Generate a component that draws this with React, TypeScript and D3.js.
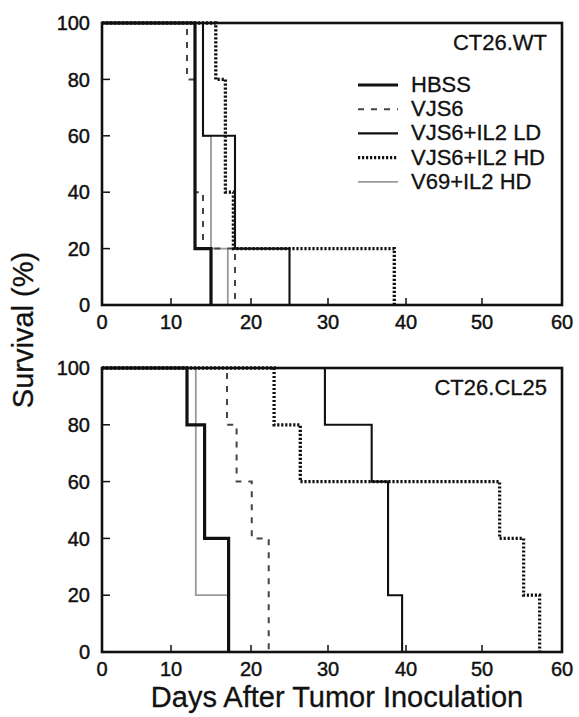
import React from "react";
import * as d3 from "d3";

// ---- data ----
const xTicks = [0, 10, 20, 30, 40, 50, 60];
const yTicks = [0, 20, 40, 60, 80, 100];
const seriesNames = ["HBSS", "VJS6", "VJS6+IL2 LD", "VJS6+IL2 HD", "V69+IL2 HD"];
const panelTitles = ["CT26.WT", "CT26.CL25"];

// CT26.WT panel: days of death events and survival (%) after each
const wtHBSSDays = [0, 13, 15];
const wtHBSSSurv = [100, 20, 0];
const wtVJS6Days = [0, 12, 13, 14, 18];
const wtVJS6Surv = [100, 80, 40, 20, 0];
const wtLDDays = [0, 14, 18, 25];
const wtLDSurv = [100, 60, 20, 0];
const wtHDDays = [0, 15.6, 16.8, 17.8, 38.5];
const wtHDSurv = [100, 80, 40, 20, 0];
const wtV69Days = [0, 14, 15, 17.1];
const wtV69Surv = [100, 60, 20, 0];

// CT26.CL25 panel
const clHBSSDays = [0, 12, 14.2, 17.2];
const clHBSSSurv = [100, 80, 40, 0];
const clVJS6Days = [0, 17, 18.2, 20.1, 22.3];
const clVJS6Surv = [100, 80, 60, 40, 0];
const clLDDays = [0, 29.6, 35.6, 37.7, 39.5];
const clLDSurv = [100, 80, 60, 20, 0];
const clHDDays = [0, 23, 26.4, 52.2, 55.2, 57.2];
const clHDSurv = [100, 80, 60, 40, 20, 0];
const clV69Days = [0, 13.1, 17.2];
const clV69Surv = [100, 20, 0];

// ---- styles ----
const styles: Record<string, { stroke: string; width: number; dash?: string }> = {
  HBSS: { stroke: "#111", width: 3.2 },
  VJS6: { stroke: "#444", width: 2, dash: "6,7" },
  "VJS6+IL2 LD": { stroke: "#111", width: 2.1 },
  "VJS6+IL2 HD": { stroke: "#111", width: 3.3, dash: "2.2,1.8" },
  "V69+IL2 HD": { stroke: "#9a9a9a", width: 1.8 },
};
const drawOrder = ["V69+IL2 HD", "VJS6", "VJS6+IL2 HD", "VJS6+IL2 LD", "HBSS"];

const FONT = "'Liberation Sans', Arial, Helvetica, sans-serif";
const TXT = { fontFamily: FONT, fill: "#111", stroke: "#111", strokeWidth: 0.45 };

const x = d3
  .scaleLinear()
  .domain(xTicks)
  .range([102, 171, 251, 328, 406, 482, 562]);

type Panel = {
  title: string;
  top: number;
  bottom: number;
  series: Record<string, { days: number[]; surv: number[] }>;
  legend: boolean;
};

const panels: Panel[] = [
  {
    title: panelTitles[0],
    top: 23,
    bottom: 305,
    legend: true,
    series: {
      HBSS: { days: wtHBSSDays, surv: wtHBSSSurv },
      VJS6: { days: wtVJS6Days, surv: wtVJS6Surv },
      "VJS6+IL2 LD": { days: wtLDDays, surv: wtLDSurv },
      "VJS6+IL2 HD": { days: wtHDDays, surv: wtHDSurv },
      "V69+IL2 HD": { days: wtV69Days, surv: wtV69Surv },
    },
  },
  {
    title: panelTitles[1],
    top: 368,
    bottom: 652,
    legend: false,
    series: {
      HBSS: { days: clHBSSDays, surv: clHBSSSurv },
      VJS6: { days: clVJS6Days, surv: clVJS6Surv },
      "VJS6+IL2 LD": { days: clLDDays, surv: clLDSurv },
      "VJS6+IL2 HD": { days: clHDDays, surv: clHDSurv },
      "V69+IL2 HD": { days: clV69Days, surv: clV69Surv },
    },
  },
];

function PanelView({ p }: { p: Panel }) {
  const y = d3.scaleLinear().domain([0, 100]).range([p.bottom, p.top]);
  const line = d3
    .line<[number, number]>()
    .x((d) => x(d[0]))
    .y((d) => y(d[1]))
    .curve(d3.curveStepAfter);
  const x0 = x(0);
  const x1 = x(60);
  return (
    <g>
      {drawOrder.map((name) => {
        const s = p.series[name];
        const pts = s.days.map((d, i) => [d, s.surv[i]] as [number, number]);
        const st = styles[name];
        return (
          <path
            key={name}
            d={line(pts) || ""}
            fill="none"
            stroke={st.stroke}
            strokeWidth={st.width}
            strokeDasharray={st.dash}
          />
        );
      })}
      {/* frame */}
      <rect
        x={x0}
        y={p.top}
        width={x1 - x0}
        height={p.bottom - p.top}
        fill="none"
        stroke="#111"
        strokeWidth={2.6}
      />
      {/* x ticks */}
      {xTicks.map((t) => (
        <g key={"xt" + t}>
          <line x1={x(t)} x2={x(t)} y1={p.bottom} y2={p.bottom - 7} stroke="#111" strokeWidth={1.5} />
          <text x={x(t)} y={p.bottom + 24} textAnchor="middle" fontSize={20} {...TXT}>
            {t}
          </text>
        </g>
      ))}
      {/* y ticks */}
      {yTicks.map((t) => (
        <g key={"yt" + t}>
          <line x1={x0} x2={x0 + 8} y1={y(t)} y2={y(t)} stroke="#111" strokeWidth={1.5} />
          <text x={90} y={y(t)} dy="0.36em" textAnchor="end" fontSize={20} {...TXT}>
            {t}
          </text>
        </g>
      ))}
      <text x={547} y={p.top + 27} textAnchor="end" fontSize={22} {...TXT} strokeWidth={0.3}>
        {p.title}
      </text>
      {p.legend &&
        seriesNames.map((name, i) => {
          const st = styles[name];
          const by = 92 + i * 24.2;
          return (
            <g key={"lg" + name}>
              <line
                x1={358}
                x2={398}
                y1={by - 7}
                y2={by - 7}
                stroke={st.stroke}
                strokeWidth={st.width}
                strokeDasharray={st.dash}
              />
              <text x={411} y={by} fontSize={22} {...TXT} strokeWidth={0.3}>
                {name}
              </text>
            </g>
          );
        })}
    </g>
  );
}

export default function App() {
  return (
    <svg
      width={579}
      height={717}
      viewBox="0 0 579 717"
      style={{ position: "absolute", left: 0, top: 0, background: "#fff" }}
    >
      <rect x={0} y={0} width={579} height={717} fill="#fff" />
      {panels.map((p) => (
        <PanelView key={p.title} p={p} />
      ))}
      <text x={337} y={707} textAnchor="middle" fontSize={29} {...TXT} strokeWidth={0.3}>
        Days After Tumor Inoculation
      </text>
      <text
        transform="translate(33,330) rotate(-90)"
        textAnchor="middle"
        fontSize={29}
        {...TXT}
        strokeWidth={0.3}
      >
        Survival (%)
      </text>
    </svg>
  );
}
